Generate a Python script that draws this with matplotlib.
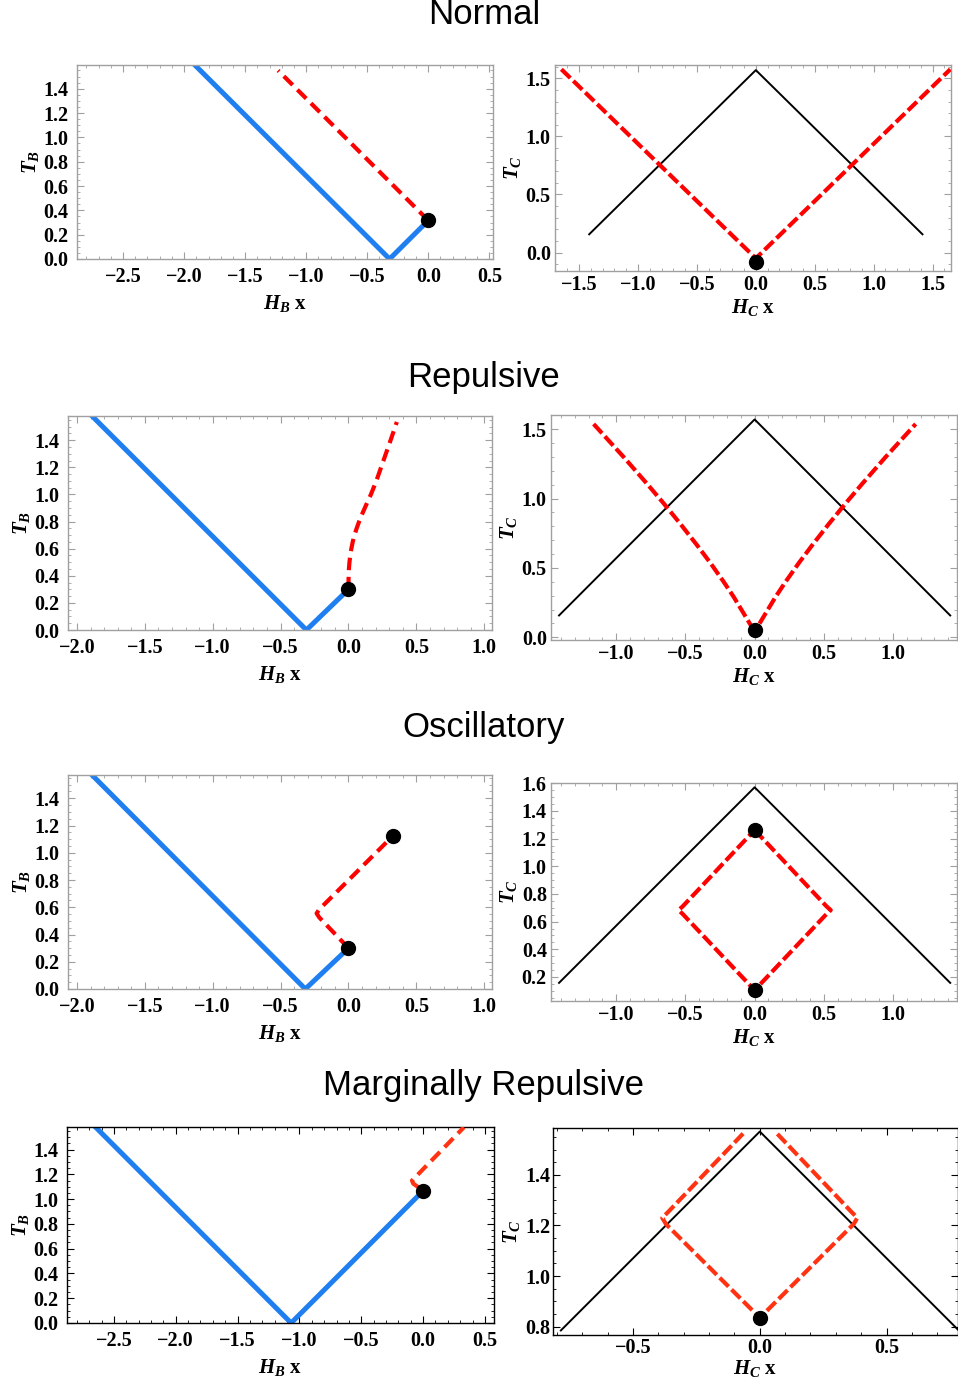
import matplotlib
matplotlib.use('Agg')
import matplotlib.pyplot as plt
from matplotlib.ticker import MultipleLocator, FuncFormatter

plt.rcParams['font.family'] = ['Liberation Serif', 'DejaVu Serif']
plt.rcParams['font.weight'] = 'bold'
plt.rcParams['mathtext.fontset'] = 'custom'
plt.rcParams['mathtext.rm'] = 'Liberation Serif:bold'
plt.rcParams['mathtext.it'] = 'Liberation Serif:italic:bold'
plt.rcParams['mathtext.bf'] = 'Liberation Serif:bold'

# ---------------- data ----------------
titles = ["Normal", "Repulsive", "Oscillatory", "Marginally Repulsive"]

# Black boundary (right panels)
bound_H = [-1.414, 0.0, 1.414]
bound_T = [0.157, 1.571, 0.157]
bound4_H = [-0.785, 0.0, 0.785]
bound4_T = [0.785, 1.571, 0.785]

# Normal
n_blue_H = [-1.93, -0.317, 0.0]
n_blue_T = [1.613, 0.0, 0.317]
n_red_H = [0.0, -1.23]
n_red_T = [0.317, 1.55]
n_dot_B = ([0.0], [0.317])
n_redC_H = [-1.65, 0.0, 1.65]
n_redC_T = [1.578, -0.05, 1.578]
n_dot_C = ([0.0], [-0.08])

# Repulsive
r_blue_H = [-1.90, -0.31, 0.0]
r_blue_T = [1.59, 0.0, 0.30]
r_red_H = [0.0, 0.0, 0.001, 0.003, 0.007, 0.013, 0.021, 0.031, 0.044, 0.06, 0.078,
           0.098, 0.12, 0.142, 0.165, 0.205, 0.24, 0.275, 0.31, 0.356]
r_red_T = [0.30, 0.35, 0.40, 0.45, 0.50, 0.55, 0.60, 0.65, 0.70, 0.75, 0.80,
           0.85, 0.90, 0.95, 1.00, 1.10, 1.20, 1.30, 1.40, 1.535]
r_dot_B = ([0.0], [0.30])
r_redC_H = [-1.164, -0.947, -0.778, -0.658, -0.537, -0.417, -0.32, -0.224, -0.152, -0.08, -0.03,
            0.0,
            0.03, 0.08, 0.152, 0.224, 0.32, 0.417, 0.537, 0.658, 0.778, 0.947, 1.164]
r_redC_T = [1.538, 1.30, 1.107, 0.966, 0.818, 0.665, 0.536, 0.40, 0.292, 0.173, 0.09,
            0.07,
            0.09, 0.173, 0.292, 0.40, 0.536, 0.665, 0.818, 0.966, 1.107, 1.30, 1.538]
r_dot_C = ([0.0], [0.053])

# Oscillatory
o_blue_H = [-1.93, -0.318, 0.0]
o_blue_T = [1.612, 0.0, 0.30]
o_red_H = [0.0, -0.215, -0.235, -0.215, 0.327]
o_red_T = [0.30, 0.525, 0.555, 0.585, 1.124]
o_dots_B = ([0.0, 0.327], [0.30, 1.124])
o_redC_H = [0.0, 0.52, 0.55, 0.52, 0.0, -0.52, -0.55, -0.52, 0.0]
o_redC_T = [1.262, 0.71, 0.683, 0.655, 0.104, 0.655, 0.683, 0.71, 1.262]
o_dots_C = ([0.0, 0.0], [1.262, 0.104])

# Marginally repulsive
m_blue_H = [-2.66, -1.067, 0.0]
m_blue_T = [1.593, 0.0, 1.067]
m_red_H = [-0.03, -0.08, -0.09, -0.07, 0.33]
m_red_T = [1.09, 1.125, 1.15, 1.17, 1.58]
m_dot_B = ([0.0], [1.067])
m_redC_H = [-0.066, -0.36, -0.385, -0.37, 0.0, 0.37, 0.385, 0.36, 0.068]
m_redC_T = [1.563, 1.255, 1.23, 1.205, 0.835, 1.205, 1.23, 1.255, 1.563]
m_dot_C = ([0.0], [0.833])

# ---------------- layout ----------------
W, H = 958, 1387
fig = plt.figure(figsize=(W / 100, H / 100), dpi=100)

def add_ax(x0, x1, y0, y1):
    return fig.add_axes([x0 / W, 1 - y1 / H, (x1 - x0) / W, (y1 - y0) / H])

BLUE = '#1f7ff0'
RED = '#ff0000'
RED2 = '#ff3311'
GREY = '#a0a0a0'

def fmt(v, pos):
    if abs(v) < 1e-9:
        v = 0.0
    return ('%.1f' % v).replace('-', '\u2212')

def style(ax, xlim, ylim, xmaj, xmin, ymaj, ymin, fc, xl, yl, pad=6, lpad=4):
    ax.set_xlim(xlim)
    ax.set_ylim(ylim)
    ax.xaxis.set_major_locator(MultipleLocator(xmaj))
    ax.xaxis.set_minor_locator(MultipleLocator(xmin))
    ax.yaxis.set_major_locator(MultipleLocator(ymaj))
    ax.yaxis.set_minor_locator(MultipleLocator(ymin))
    ax.xaxis.set_major_formatter(FuncFormatter(fmt))
    ax.yaxis.set_major_formatter(FuncFormatter(fmt))
    ax.tick_params(which='both', direction='in', top=True, right=True,
                   colors=fc, labelcolor='black', labelsize=14.5)
    ax.tick_params(which='major', length=5, width=0.8, pad=pad)
    ax.tick_params(which='minor', length=2.5, width=0.6)
    for s in ax.spines.values():
        s.set_color(fc)
        s.set_linewidth(1.0)
    ax.set_xlabel(xl, fontsize=15, fontweight='bold', labelpad=lpad)
    ax.set_ylabel(yl, fontsize=15, fontweight='bold', labelpad=2)

def left_panel(ax, bH, bT, rH, rT, dots, rc, dashes):
    ax.plot(bH, bT, color=BLUE, lw=3.6, solid_joinstyle='miter', zorder=2)
    ax.plot(rH, rT, color=rc, lw=3.0, dashes=dashes, zorder=3)
    ax.plot(dots[0], dots[1], 'o', color='black', ms=10, zorder=4)

def right_panel(ax, kH, kT, rH, rT, dots, rc):
    ax.plot(kH, kT, color='black', lw=1.4, zorder=2)
    ax.plot(rH, rT, color=rc, lw=3.0, dashes=(3.0, 1.0), zorder=3)
    ax.plot(dots[0], dots[1], 'o', color='black', ms=10, zorder=4)

xlB = r'$H_B$ x'
ylB = r'$T_B$'
xlC = r'$H_C$ x'
ylC = r'$T_C$'

# Row 1: Normal
ax = add_ax(77, 493, 65, 259)
left_panel(ax, n_blue_H, n_blue_T, n_red_H, n_red_T, n_dot_B, RED, (3.0, 1.6))
style(ax, (-2.877, 0.53), (0, 1.595), 0.5, 0.1, 0.2, 0.05, GREY, xlB, ylB)
ax = add_ax(555, 951, 65, 271)
right_panel(ax, bound_H, bound_T, n_redC_H, n_redC_T, n_dot_C, RED)
style(ax, (-1.704, 1.656), (-0.159, 1.615), 0.5, 0.1, 0.5, 0.1, GREY, xlC, ylC, pad=3, lpad=1)

# Row 2: Repulsive
ax = add_ax(68, 492, 416, 630)
left_panel(ax, r_blue_H, r_blue_T, r_red_H, r_red_T, r_dot_B, RED, (3.0, 1.6))
style(ax, (-2.066, 1.057), (0, 1.579), 0.5, 0.1, 0.2, 0.05, GREY, xlB, ylB)
ax = add_ax(551, 957, 415, 640)
right_panel(ax, bound_H, bound_T, r_redC_H, r_redC_T, r_dot_C, RED)
style(ax, (-1.472, 1.463), (-0.02, 1.603), 0.5, 0.1, 0.5, 0.1, GREY, xlC, ylC, pad=3, lpad=1)

# Row 3: Oscillatory
ax = add_ax(68, 492, 775, 989)
left_panel(ax, o_blue_H, o_blue_T, o_red_H, o_red_T, o_dots_B, RED, (3.0, 1.6))
style(ax, (-2.066, 1.057), (0, 1.571), 0.5, 0.1, 0.2, 0.05, GREY, xlB, ylB)
ax = add_ax(551, 957, 783, 1001)
right_panel(ax, bound_H, bound_T, o_redC_H, o_redC_T, o_dots_C, RED)
style(ax, (-1.472, 1.463), (0.026, 1.602), 0.5, 0.1, 0.2, 0.05, GREY, xlC, ylC, pad=3, lpad=1)

# Row 4: Marginally Repulsive
ax = add_ax(67, 494, 1127, 1323)
left_panel(ax, m_blue_H, m_blue_T, m_red_H, m_red_T, m_dot_B, RED2, (3.0, 1.6))
style(ax, (-2.879, 0.573), (0, 1.582), 0.5, 0.1, 0.2, 0.05, 'black', xlB, ylB)
ax = add_ax(553, 958, 1128, 1335)
right_panel(ax, bound4_H, bound4_T, m_redC_H, m_redC_T, m_dot_C, RED2)
style(ax, (-0.816, 0.782), (0.767, 1.585), 0.5, 0.1, 0.2, 0.05, 'black', xlC, ylC, pad=2, lpad=0)

# Titles
for t, yc in zip(titles, [15, 378, 727, 1086]):
    fig.text(484 / W, 1 - yc / H, t, ha='center', va='center',
             fontsize=25, family='Liberation Sans', weight='normal')

fig.savefig('out.png', dpi=100)
